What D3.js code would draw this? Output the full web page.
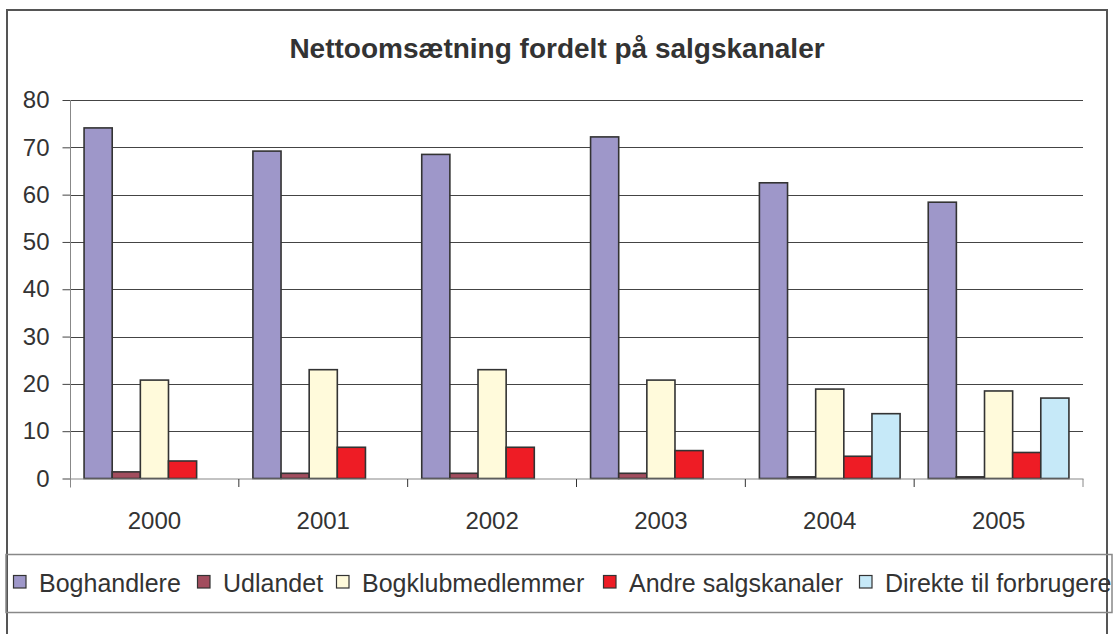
<!DOCTYPE html>
<html>
<head>
<meta charset="utf-8">
<script src="https://cdn.jsdelivr.net/npm/d3@7"></script>
<style>
  body { margin: 0; background: #fff; }
  svg { display: block; font-family: "Liberation Sans", Arial, sans-serif; }
</style>
</head>
<body>
<svg id="chart" width="1116" height="634"></svg>
<script>
// chart data
var years = ['2000', '2001', '2002', '2003', '2004', '2005'];
var channels = ['Boghandlere', 'Udlandet', 'Bogklubmedlemmer', 'Andre salgskanaler', 'Direkte til forbrugere'];
var boghandlere = [74.1, 69.2, 68.5, 72.2, 62.5, 58.4];
var udlandet = [1.4, 1.1, 1.1, 1.1, 0.35, 0.35];
var bogklub = [20.8, 23.0, 23.0, 20.8, 18.9, 18.5];
var andre = [3.7, 6.6, 6.6, 5.9, 4.7, 5.5];
var direkte = [0, 0, 0, 0, 13.7, 17.0];
var yTicks = [0, 10, 20, 30, 40, 50, 60, 70, 80];
var title = 'Nettoomsætning fordelt på salgskanaler';

var colors = ['#9e97c9', '#a24d5e', '#fffadb', '#ee1c25', '#c6e9f8'];
var series = [boghandlere, udlandet, bogklub, andre, direkte];

var svg = d3.select('#chart');

// outer frame (bottom runs off the page)
svg.append('path')
  .attr('d', 'M7,640 L7,10 L1107,10 L1107,640')
  .style('fill', 'none')
  .style('stroke', '#555')
  .style('stroke-width', 2);

svg.append('text')
  .attr('x', 557).attr('y', 58)
  .attr('text-anchor', 'middle')
  .style('font-size', '28px')
  .style('font-weight', 'bold')
  .style('fill', '#333')
  .text(title);

var pLeft = 70, pRight = 1083, pTop = 100, pBase = 478.5;
var x = d3.scaleBand().domain(years).range([pLeft, pRight]).paddingInner(0).paddingOuter(0);
var y = d3.scaleLinear().domain([0, 80]).range([pBase, pTop]);
var inner = d3.scaleBand().domain(d3.range(channels.length))
  .range([0, x.bandwidth()]).paddingOuter(0.5).paddingInner(0);

// gridlines
svg.append('g').selectAll('line')
  .data(yTicks.filter(function(d) { return d > 0; }))
  .enter().append('line')
  .attr('x1', pLeft).attr('x2', pRight)
  .attr('y1', function(d) { return Math.round(y(d)) + 0.5; })
  .attr('y2', function(d) { return Math.round(y(d)) + 0.5; })
  .style('stroke', '#444')
  .style('stroke-width', 1);

// y axis
var yAxis = svg.append('g')
  .attr('transform', 'translate(' + (pLeft + 0.5) + ',0)')
  .call(d3.axisLeft(y).tickValues(yTicks).tickSize(8).tickSizeOuter(0).tickPadding(13));
yAxis.select('.domain').remove();
yAxis.selectAll('.tick line').style('stroke', '#444');
yAxis.selectAll('.tick text')
  .style('font-size', '24px')
  .style('fill', '#333')
  .style('font-family', '"Liberation Sans", Arial, sans-serif');
svg.append('line')
  .attr('x1', pLeft + 0.5).attr('x2', pLeft + 0.5)
  .attr('y1', pTop).attr('y2', pBase + 9)
  .style('stroke', '#888').style('stroke-width', 1);

// bars
var groups = svg.append('g').selectAll('g')
  .data(years)
  .enter().append('g')
  .attr('transform', function(d) { return 'translate(' + x(d) + ',0)'; });

groups.selectAll('rect')
  .data(function(d, i) {
    return series.map(function(s, k) { return {k: k, v: s[i]}; }).filter(function(e) { return e.v > 0; });
  })
  .enter().append('rect')
  .attr('x', function(d) { return inner(d.k); })
  .attr('width', inner.bandwidth())
  .attr('y', function(d) { return y(d.v); })
  .attr('height', function(d) { return pBase - y(d.v); })
  .style('fill', function(d) { return colors[d.k]; })
  .style('stroke', '#333')
  .style('stroke-width', 1.6);

// x axis
var xAxis = svg.append('g')
  .attr('transform', 'translate(0,' + (pBase + 0.5) + ')');
xAxis.append('line')
  .attr('x1', pLeft).attr('x2', pRight + 0.5)
  .style('stroke', '#888').style('stroke-width', 1.2);
xAxis.selectAll('line.tk')
  .data(years.slice(1).concat(['end']))
  .enter().append('line').classed('tk', true)
  .attr('x1', function(d) { return d === 'end' ? pRight : x(d); })
  .attr('x2', function(d) { return d === 'end' ? pRight : x(d); })
  .attr('y1', 0).attr('y2', 8)
  .style('stroke', function(d) { return d === 'end' ? '#888' : '#333'; });
xAxis.selectAll('text')
  .data(years)
  .enter().append('text')
  .attr('x', function(d) { return x(d) + x.bandwidth() / 2; })
  .attr('y', 50)
  .attr('text-anchor', 'middle')
  .style('font-size', '24px')
  .style('fill', '#333')
  .text(function(d) { return d; });

// legend
svg.append('rect')
  .attr('x', 6).attr('y', 554.5).attr('width', 1106).attr('height', 58)
  .style('fill', 'none').style('stroke', '#888').style('stroke-width', 1.5);
var legendX = [13, 197, 336, 603, 859];
var leg = svg.append('g').selectAll('g')
  .data(channels)
  .enter().append('g')
  .attr('transform', function(d, i) { return 'translate(' + legendX[i] + ',575)'; });
leg.append('rect')
  .attr('x', 0.5).attr('y', 0.5).attr('width', 12.5).attr('height', 12.5)
  .style('fill', function(d, i) { return colors[i]; })
  .style('stroke', '#333').style('stroke-width', 1.2);
leg.append('text')
  .attr('x', 26).attr('y', 17)
  .style('font-size', '25px')
  .style('fill', '#333')
  .text(function(d) { return d; });
</script>
</body>
</html>
